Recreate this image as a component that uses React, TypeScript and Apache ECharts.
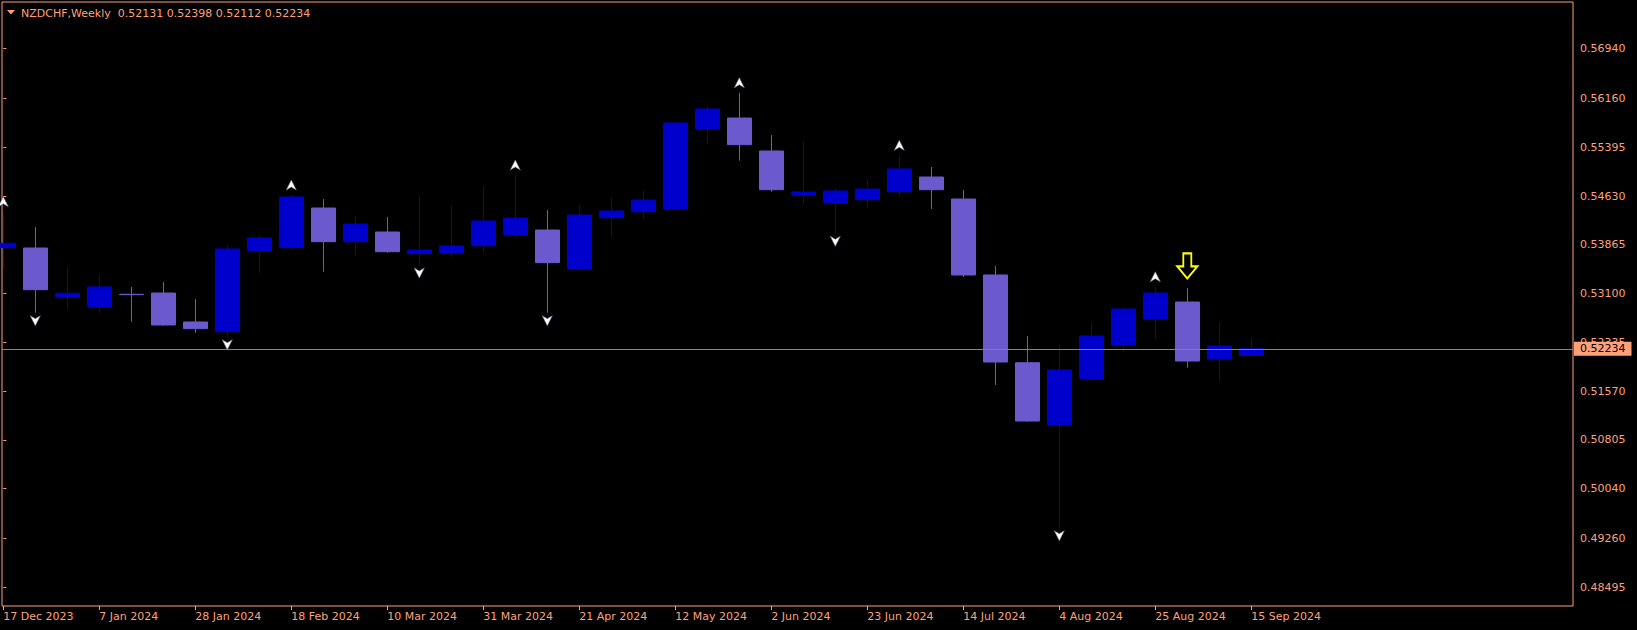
import React, { useEffect, useRef } from 'react';
import * as echarts from 'echarts';

const symbolName = 'NZDCHF';
const periodName = 'Weekly';

const weeks = [
  '17 Dec 2023', '24 Dec 2023', '31 Dec 2023', '7 Jan 2024', '14 Jan 2024', '21 Jan 2024', '28 Jan 2024',
  '4 Feb 2024', '11 Feb 2024', '18 Feb 2024', '25 Feb 2024', '3 Mar 2024', '10 Mar 2024', '17 Mar 2024',
  '24 Mar 2024', '31 Mar 2024', '7 Apr 2024', '14 Apr 2024', '21 Apr 2024', '28 Apr 2024', '5 May 2024',
  '12 May 2024', '19 May 2024', '26 May 2024', '2 Jun 2024', '9 Jun 2024', '16 Jun 2024', '23 Jun 2024',
  '30 Jun 2024', '7 Jul 2024', '14 Jul 2024', '21 Jul 2024', '28 Jul 2024', '4 Aug 2024', '11 Aug 2024',
  '18 Aug 2024', '25 Aug 2024', '1 Sep 2024', '8 Sep 2024', '15 Sep 2024',
];

const opens = [
  0.53820, 0.53815, 0.53047, 0.52890, 0.53089, 0.53109, 0.52655, 0.52503, 0.53773, 0.53820,
  0.54442, 0.53914, 0.54066, 0.53726, 0.53741, 0.53851, 0.54019, 0.54097, 0.53486, 0.54290,
  0.54384, 0.54427, 0.55681, 0.55853, 0.55336, 0.54646, 0.54521, 0.54572, 0.54698, 0.54928,
  0.54583, 0.53392, 0.52016, 0.51040, 0.51761, 0.52294, 0.52702, 0.52968, 0.52075, 0.52131,
];
const closes = [
  0.53889, 0.53161, 0.53105, 0.53204, 0.53083, 0.52608, 0.52550, 0.53799, 0.53972, 0.54615,
  0.53914, 0.54191, 0.53757, 0.53784, 0.53846, 0.54238, 0.54285, 0.53585, 0.54332, 0.54395,
  0.54568, 0.55775, 0.55995, 0.55435, 0.54729, 0.54693, 0.54709, 0.54740, 0.55054, 0.54729,
  0.53392, 0.52027, 0.51102, 0.51902, 0.52435, 0.52858, 0.53109, 0.52043, 0.52278, 0.52234,
];
const lows = [
  0.53470, 0.52800, 0.52858, 0.52800, 0.52659, 0.52597, 0.52487, 0.52424, 0.53428, 0.53784,
  0.53443, 0.53694, 0.53741, 0.53548, 0.53679, 0.53741, 0.53961, 0.52800, 0.53481, 0.53992,
  0.54270, 0.54400, 0.55450, 0.55184, 0.54698, 0.54513, 0.54045, 0.54447, 0.54619, 0.54427,
  0.53360, 0.51667, 0.51091, 0.49429, 0.51745, 0.52189, 0.52388, 0.51938, 0.51730, 0.52112,
];
const highs = [
  0.54384, 0.54144, 0.53512, 0.53387, 0.53204, 0.53282, 0.53015, 0.53857, 0.54014, 0.54646,
  0.54583, 0.54317, 0.54301, 0.54630, 0.54474, 0.54787, 0.54960, 0.54411, 0.54489, 0.54599,
  0.54709, 0.55775, 0.56042, 0.56250, 0.55587, 0.55477, 0.54751, 0.54881, 0.55268, 0.55085,
  0.54724, 0.53533, 0.52435, 0.52294, 0.52639, 0.52874, 0.53208, 0.53188, 0.52655, 0.52398,
];

const priceTicks = [0.5694, 0.5616, 0.55395, 0.5463, 0.53865, 0.531, 0.52335, 0.5157, 0.50805, 0.5004, 0.4926, 0.48495];
const dateTickIdx = [0, 3, 6, 9, 12, 15, 18, 21, 24, 27, 30, 33, 36, 39];

const upFractals = [0, 9, 16, 23, 28, 36];
const downFractals = [1, 7, 13, 17, 26, 33];
const signalBars = [37];

const FG = '#FFA07A';
const BULL = '#0000CD';
const BEAR = '#6A5ACD';
const FONT = 'DejaVu Sans';
const Y_MIN = 0.482015;
const Y_MAX = 0.576723;

export default function App() {
  const ref = useRef<HTMLDivElement>(null);

  useEffect(() => {
    const chart = echarts.init(ref.current as HTMLDivElement, null, { renderer: 'svg' });
    const last = weeks.length - 1;
    const lastPrice = closes[last];
    const candleData = weeks.map((_, i) => [i, opens[i], closes[i], lows[i], highs[i]]);
    const title = `${symbolName},${periodName}  ${opens[last].toFixed(5)} ${highs[last].toFixed(5)} ${lows[last].toFixed(5)} ${closes[last].toFixed(5)}`;

    chart.setOption({
      animation: false,
      backgroundColor: '#000000',
      textStyle: { fontFamily: FONT },
      grid: {
        left: 2, top: 2, right: 64, bottom: 24,
        show: true, borderColor: FG, borderWidth: 1, backgroundColor: '#000000',
      },
      xAxis: {
        type: 'value',
        min: -0.0406,
        max: 49.053,
        axisLine: { show: false },
        splitLine: { show: false },
        axisTick: { show: true, customValues: dateTickIdx, length: 4, lineStyle: { color: FG } },
        axisLabel: {
          customValues: dateTickIdx,
          formatter: (v: number) => weeks[Math.round(v)] ?? '',
          align: 'left',
          margin: 5,
          color: FG,
          fontFamily: FONT,
          fontSize: 11,
        },
      },
      yAxis: [
        {
          type: 'value',
          position: 'right',
          min: Y_MIN,
          max: Y_MAX,
          scale: true,
          axisLine: { show: false },
          splitLine: { show: false },
          axisTick: { show: true, customValues: priceTicks, length: 3, lineStyle: { color: FG } },
          axisLabel: {
            customValues: priceTicks,
            formatter: (v: number) => v.toFixed(5),
            margin: 7,
            color: FG,
            fontFamily: FONT,
            fontSize: 11,
          },
        },
        {
          type: 'value',
          position: 'right',
          min: Y_MIN,
          max: Y_MAX,
          scale: true,
          axisLine: { show: false },
          splitLine: { show: false },
          axisTick: { show: false },
          axisLabel: {
            customValues: [lastPrice],
            formatter: (v: number) => v.toFixed(5),
            margin: 1,
            color: '#000000',
            backgroundColor: FG,
            padding: [1, 6, 1, 6],
            lineHeight: 12,
            fontFamily: FONT,
            fontSize: 11,
          },
        },
      ],
      graphic: [
        {
          type: 'polygon',
          shape: { points: [[7, 10], [15, 10], [11, 14.5]] },
          style: { fill: FG },
        },
        {
          type: 'text',
          x: 21,
          y: 13,
          style: { text: title, fill: FG, font: `11px "${FONT}"`, verticalAlign: 'middle' },
        },
      ],
      series: [
        {
          type: 'candlestick',
          data: candleData,
          encode: { x: 0, y: [1, 2, 3, 4] },
          barWidth: 24,
          clip: true,
          itemStyle: { color: BULL, color0: BEAR, borderColor: BULL, borderColor0: BEAR, borderWidth: 1 },
        },
        {
          type: 'line',
          silent: true,
          data: [],
          markLine: {
            silent: true,
            precision: 5,
            symbol: ['none', 'none'],
            data: [{ yAxis: lastPrice }],
            lineStyle: { color: '#778899', width: 1, type: 'solid' },
            label: { show: false },
            emphasis: { disabled: true },
          },
        },
        {
          type: 'scatter',
          silent: true,
          clip: false,
          z: 5,
          data: upFractals.map((i) => [i, highs[i]]),
          symbol: 'path://M5,0 L10,10 L5,7 L0,10 Z',
          symbolSize: [10, 10],
          symbolOffset: [0, -10],
          itemStyle: { color: '#FFFFFF', borderColor: '#708090', borderWidth: 0.6, opacity: 1 },
        },
        {
          type: 'scatter',
          silent: true,
          clip: false,
          z: 5,
          data: downFractals.map((i) => [i, lows[i]]),
          symbol: 'path://M0,0 L5,3 L10,0 L5,10 Z',
          symbolSize: [10, 10],
          symbolOffset: [0, 8],
          itemStyle: { color: '#FFFFFF', borderColor: '#708090', borderWidth: 0.6, opacity: 1 },
        },
        {
          type: 'scatter',
          silent: true,
          clip: false,
          z: 5,
          data: signalBars.map((i) => [i, highs[i]]),
          symbol: 'path://M6,0 L14,0 L14,13 L20,13 L10,25 L0,13 L6,13 Z',
          symbolSize: [20, 25],
          symbolOffset: [0, -22],
          itemStyle: { color: '#000000', borderColor: '#FFFF00', borderWidth: 2, opacity: 1 },
        },
      ],
    });

    return () => chart.dispose();
  }, []);

  return (
    <div
      ref={ref}
      style={{ position: 'fixed', left: 0, top: 0, width: 1637, height: 630, background: '#000' }}
    />
  );
}
